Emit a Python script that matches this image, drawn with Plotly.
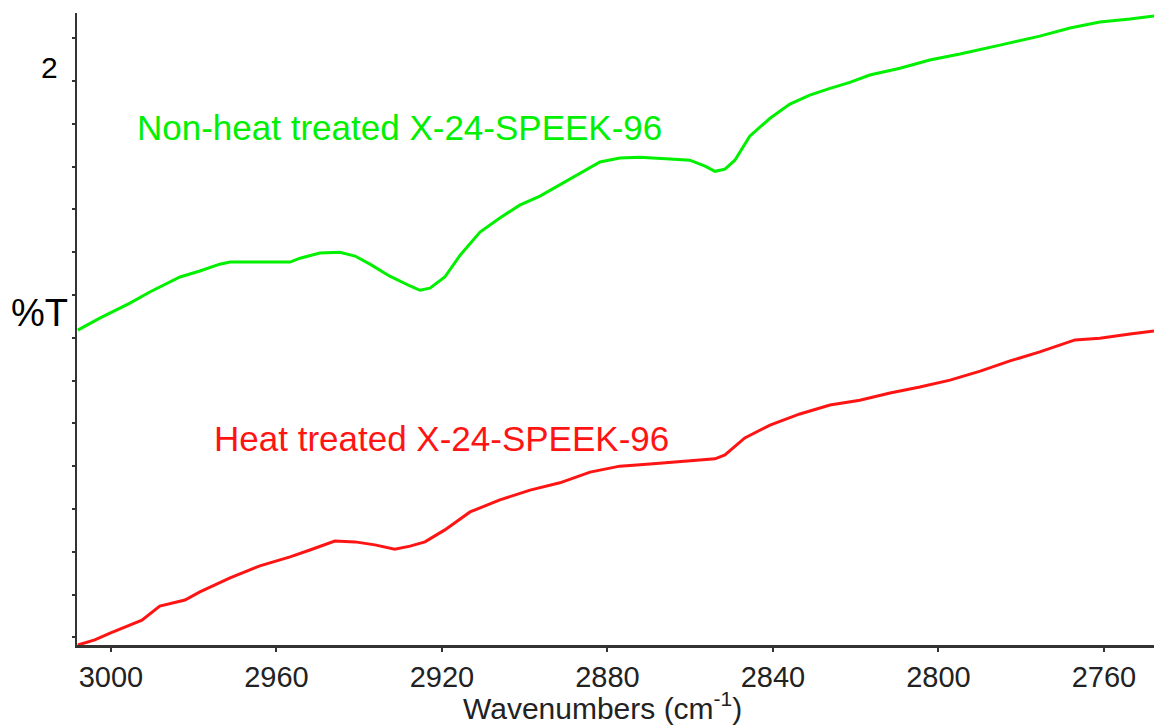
import plotly.graph_objects as go

# Non-heat treated X-24-SPEEK-96 (green)
wn_green = [3008.0, 3002.7, 2995.4, 2990.6, 2983.3, 2978.5, 2973.7, 2971.2, 2964.0, 2956.7,
            2954.3, 2949.5, 2944.7, 2941.0, 2937.4, 2932.6, 2927.7, 2925.3, 2922.9, 2919.3,
            2915.6, 2910.8, 2906.0, 2901.2, 2896.3, 2891.5, 2886.7, 2881.8, 2877.0, 2872.2,
            2864.9, 2860.1, 2856.4, 2854.0, 2851.6, 2849.2, 2845.6, 2840.7, 2835.9, 2831.1,
            2826.2, 2821.4, 2816.6, 2809.3, 2802.1, 2794.8, 2785.1, 2775.5, 2768.2, 2761.0,
            2753.7, 2747.9]
t_green = [7.36, 7.64, 7.99, 8.25, 8.60, 8.74, 8.90, 8.95, 8.95, 8.95,
           9.04, 9.16, 9.18, 9.09, 8.90, 8.62, 8.39, 8.29, 8.34, 8.60,
           9.11, 9.65, 9.98, 10.28, 10.49, 10.75, 11.03, 11.29, 11.38, 11.40,
           11.36, 11.33, 11.19, 11.07, 11.12, 11.33, 11.89, 12.31, 12.64, 12.85,
           13.01, 13.15, 13.32, 13.48, 13.67, 13.81, 14.02, 14.23, 14.42, 14.56,
           14.63, 14.70]

# Heat treated X-24-SPEEK-96 (red)
wn_red = [3008.0, 3003.9, 3000.2, 2992.5, 2988.2, 2982.1, 2978.5, 2971.2, 2964.0, 2956.7,
          2951.9, 2945.9, 2941.0, 2936.2, 2931.4, 2927.7, 2924.1, 2919.3, 2913.2, 2906.0,
          2898.7, 2891.5, 2884.2, 2877.0, 2869.7, 2860.1, 2854.0, 2851.6, 2846.8, 2840.7,
          2833.5, 2826.2, 2819.0, 2811.7, 2804.5, 2797.2, 2789.9, 2782.7, 2775.5, 2767.0,
          2761.0, 2753.7, 2747.9]
t_red = [0.00, 0.12, 0.28, 0.58, 0.91, 1.05, 1.24, 1.57, 1.85, 2.06,
         2.22, 2.43, 2.41, 2.34, 2.24, 2.31, 2.41, 2.69, 3.11, 3.39,
         3.62, 3.79, 4.04, 4.18, 4.23, 4.30, 4.35, 4.44, 4.84, 5.14,
         5.40, 5.61, 5.72, 5.89, 6.03, 6.19, 6.40, 6.64, 6.85, 7.13,
         7.17, 7.27, 7.34]

x_ticks = [3000, 2960, 2920, 2880, 2840, 2800, 2760]
GREEN = "rgb(0,240,0)"
RED = "rgb(255,20,20)"
FONT = "Liberation Sans, Arial, sans-serif"

fig = go.Figure()
fig.add_trace(go.Scatter(x=wn_green, y=t_green, mode="lines",
                         line=dict(color=GREEN, width=3), showlegend=False))
fig.add_trace(go.Scatter(x=wn_red, y=t_red, mode="lines",
                         line=dict(color=RED, width=3), showlegend=False))

fig.add_annotation(x=2994.2, y=12.1, xref="x", yref="y", text="Non-heat treated X-24-SPEEK-96",
                   showarrow=False, xanchor="left", yanchor="middle",
                   font=dict(family=FONT, size=35, color=GREEN))
fig.add_annotation(x=2975.6, y=4.83, xref="x", yref="y", text="Heat treated X-24-SPEEK-96",
                   showarrow=False, xanchor="left", yanchor="middle",
                   font=dict(family=FONT, size=35, color=RED))
fig.add_annotation(x=0, y=13.49, xref="paper", yref="y", text="2", xshift=-17,
                   showarrow=False, xanchor="right", yanchor="middle",
                   font=dict(family=FONT, size=30, color="black"))
fig.add_annotation(x=0, y=7.76, xref="paper", yref="y", text="%T", xshift=-7,
                   showarrow=False, xanchor="right", yanchor="middle",
                   font=dict(family=FONT, size=38, color="black"))
fig.add_annotation(x=0.488, y=0, xref="paper", yref="paper",
                   text="Wavenumbers (cm<sup>-1</sup>)", yshift=-82,
                   showarrow=False, xanchor="center", yanchor="bottom",
                   font=dict(family=FONT, size=30, color="#222"))

fig.update_layout(
    width=1154, height=725,
    margin=dict(l=77, r=0, t=13, b=80),
    paper_bgcolor="white", plot_bgcolor="white",
    font=dict(family=FONT, color="#222"),
    xaxis=dict(range=[3008.2, 2747.9], tickvals=x_ticks, ticks="outside", ticklen=4,
               tickwidth=2, tickcolor="#333", showline=True, linecolor="#333", linewidth=3,
               showgrid=False, zeroline=False, tickfont=dict(size=29, color="#222"),
               ticklabelstandoff=0),
    yaxis=dict(range=[0, 14.77], tick0=0.18, dtick=1, ticks="outside", ticklen=3,
               tickwidth=2, tickcolor="#333", showline=True, linecolor="#333", linewidth=2,
               showgrid=False, zeroline=False, showticklabels=False),
)

fig.write_html("out.html")
